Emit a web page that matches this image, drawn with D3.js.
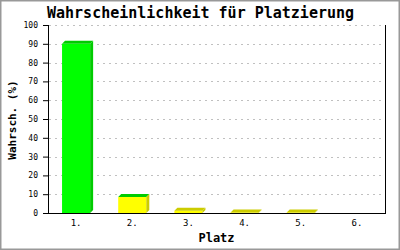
<!DOCTYPE html>
<html>
<head>
<meta charset="utf-8">
<script src="https://cdn.jsdelivr.net/npm/d3@7"></script>
<style>
  body { margin: 0; background: #fff; }
  text { font-family: "DejaVu Sans Mono", monospace; fill: #000; }
</style>
</head>
<body>
<div id="chart"></div>
<script>
// data
const places = ["1.", "2.", "3.", "4.", "5.", "6."];
const probs = [90, 8.5, 1.2, 0.3, 0.3, 0];
const yTickValues = [0, 10, 20, 30, 40, 50, 60, 70, 80, 90, 100];

// face colours per bar (front / top / side)
const frontColors = ["#00ff00", "#ffff00", "#ffff00", "#ffff00", "#ffff00", "#ffff00"];
const topColors = ["#00cc00", "#00cc00", "#cccc00", "#cccc00", "#cccc00", "#cccc00"];
const sideColors = ["#00cc00", "#cccc00", "#cccc00", "#cccc00", "#cccc00", "#cccc00"];

const svgWidth = 400;
const svgHeight = 250;
const margin = { top: 25, right: 15, bottom: 37, left: 48 };
const width = svgWidth - margin.left - margin.right;
const height = svgHeight - margin.top - margin.bottom;
const depth = 3;

const svg = d3.select("#chart")
    .append("svg")
    .attr("width", svgWidth)
    .attr("height", svgHeight);

// outer border
svg.append("rect")
    .attr("x", 0.5).attr("y", 0.5)
    .attr("width", svgWidth - 1).attr("height", svgHeight - 1)
    .attr("fill", "#fff")
    .attr("stroke", "#999")
    .attr("stroke-width", 2);

svg.append("text")
    .attr("x", 47)
    .attr("y", 18)
    .attr("font-size", "15px")
    .attr("font-weight", "bold")
    .text("Wahrscheinlichkeit für Platzierung");

const chartGroup = svg.append("g")
    .attr("transform", `translate(${margin.left}, ${margin.top})`);

const x = d3.scaleBand()
    .domain(places)
    .range([0, width]);

const y = d3.scaleLinear()
    .domain([0, 100])
    .range([height, 0]);

// grid lines
chartGroup.selectAll(".grid")
    .data(yTickValues)
    .enter()
    .append("line")
    .attr("x1", 1)
    .attr("x2", width)
    .attr("y1", d => Math.round(y(d)) + 0.5)
    .attr("y2", d => Math.round(y(d)) + 0.5)
    .attr("stroke", "#c0c0c0")
    .attr("stroke-dasharray", "2,4");

// right border of plot
chartGroup.append("line")
    .attr("x1", width + 0.5).attr("x2", width + 0.5)
    .attr("y1", 0).attr("y2", height)
    .attr("stroke", "#000");

// 3D bars
const barW = x.bandwidth() / 2;
const bars = chartGroup.selectAll(".bar")
    .data(probs.map((v, i) => ({ place: places[i], value: v, i: i })).filter(d => d.value > 0))
    .enter()
    .append("g");

bars.append("rect")
    .attr("x", d => x(d.place) + x.bandwidth() / 4)
    .attr("y", d => y(d.value))
    .attr("width", barW)
    .attr("height", d => height - y(d.value))
    .attr("fill", d => frontColors[d.i]);

bars.append("polygon")
    .attr("points", d => {
        const x0 = x(d.place) + x.bandwidth() / 4;
        const yt = y(d.value);
        return [[x0, yt], [x0 + depth, yt - depth], [x0 + barW + depth, yt - depth], [x0 + barW, yt]].join(" ");
    })
    .attr("fill", d => topColors[d.i]);

bars.append("polygon")
    .attr("points", d => {
        const x1 = x(d.place) + x.bandwidth() / 4 + barW;
        const yt = y(d.value);
        return [[x1, yt], [x1 + depth, yt - depth], [x1 + depth, height - depth], [x1, height]].join(" ");
    })
    .attr("fill", d => sideColors[d.i]);

// axes
const leftAxis = d3.axisLeft(y)
    .tickValues(yTickValues)
    .tickSize(5)
    .tickPadding(5);
const bottomAxis = d3.axisBottom(x)
    .tickSize(0)
    .tickPadding(7);

const yAxisG = chartGroup.append("g").call(leftAxis);
yAxisG.select(".domain").attr("d", `M0.5,0V${height}`);
yAxisG.selectAll("text").attr("font-size", "8px").attr("font-family", "DejaVu Sans Mono");

const xAxisG = chartGroup.append("g")
    .attr("transform", `translate(0, ${height})`)
    .call(bottomAxis);
xAxisG.select(".domain").attr("d", `M0,0.5H${width + 1}`);
xAxisG.selectAll("text").attr("font-size", "9px").attr("font-family", "DejaVu Sans Mono");

// axis titles
svg.append("text")
    .attr("x", margin.left + width / 2)
    .attr("y", 242)
    .attr("text-anchor", "middle")
    .attr("font-size", "12px")
    .attr("font-weight", "bold")
    .text("Platz");

svg.append("text")
    .attr("transform", "rotate(-90)")
    .attr("x", -120)
    .attr("y", 16)
    .attr("text-anchor", "middle")
    .attr("font-size", "11px")
    .attr("font-weight", "bold")
    .text("Wahrsch. (%)");
</script>
</body>
</html>
